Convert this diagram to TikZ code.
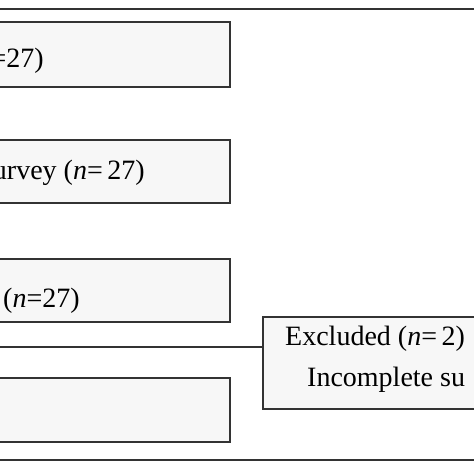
\documentclass[tikz,border=0pt]{standalone}
\usepackage{fontspec}
\setmainfont{Liberation Serif}
\definecolor{boxline}{HTML}{333333}
\definecolor{boxfill}{HTML}{F7F7F7}
\definecolor{frameline}{HTML}{333333}
\begin{document}
\begin{tikzpicture}[x=1pt,y=1pt,
  box/.style={draw=boxline, fill=boxfill, line width=1.3pt, inner sep=0pt, outer sep=0pt},
  txt/.style={font=\fontsize{28}{34}\selectfont, inner sep=0pt, text=black},
  rule/.style={draw=frameline, line width=2.6pt},
  conn/.style={draw=boxline, line width=1.3pt}]
\useasboundingbox (0,0) rectangle (474,474);
% outer rules
\coordinate (tl) at (-10,465);
\coordinate (tr) at (484,465);
\coordinate (bl) at (-10,14);
\coordinate (br) at (484,14);
\draw[rule] (tl) -- (tr);
\draw[rule] (bl) -- (br);
% boxes
\node[box, minimum width=250pt, minimum height=65pt, anchor=north east] (b1) at (230,452) {};
\node[box, minimum width=250pt, minimum height=63pt, anchor=north east] (b2) at (230,334) {};
\node[box, minimum width=250pt, minimum height=63pt, anchor=north east] (b3) at (230,215) {};
\node[box, minimum width=250pt, minimum height=64pt, anchor=north east] (b4) at (230,96) {};
\node[box, minimum width=240pt, minimum height=92pt, anchor=north west] (ex) at (263,157) {};
% texts
\node[txt, anchor=base east] (t1) at (44,406) {=27)};
\node[txt, anchor=base east] (t2) at (145,294) {urvey (\textit{n}=\,27)};
\node[txt, anchor=base west] (t3) at (3,166) {(\textit{n}=27)};
\node[txt, anchor=base west] (e1) at (285,128) {Excluded (\textit{n}=\,2)};
\node[txt, anchor=base west] (e2) at (307,87) {Incomplete su};
% connector
\coordinate (c) at (-10,127);
\draw[conn] (c) -- (c -| ex.west);
\end{tikzpicture}
\end{document}
